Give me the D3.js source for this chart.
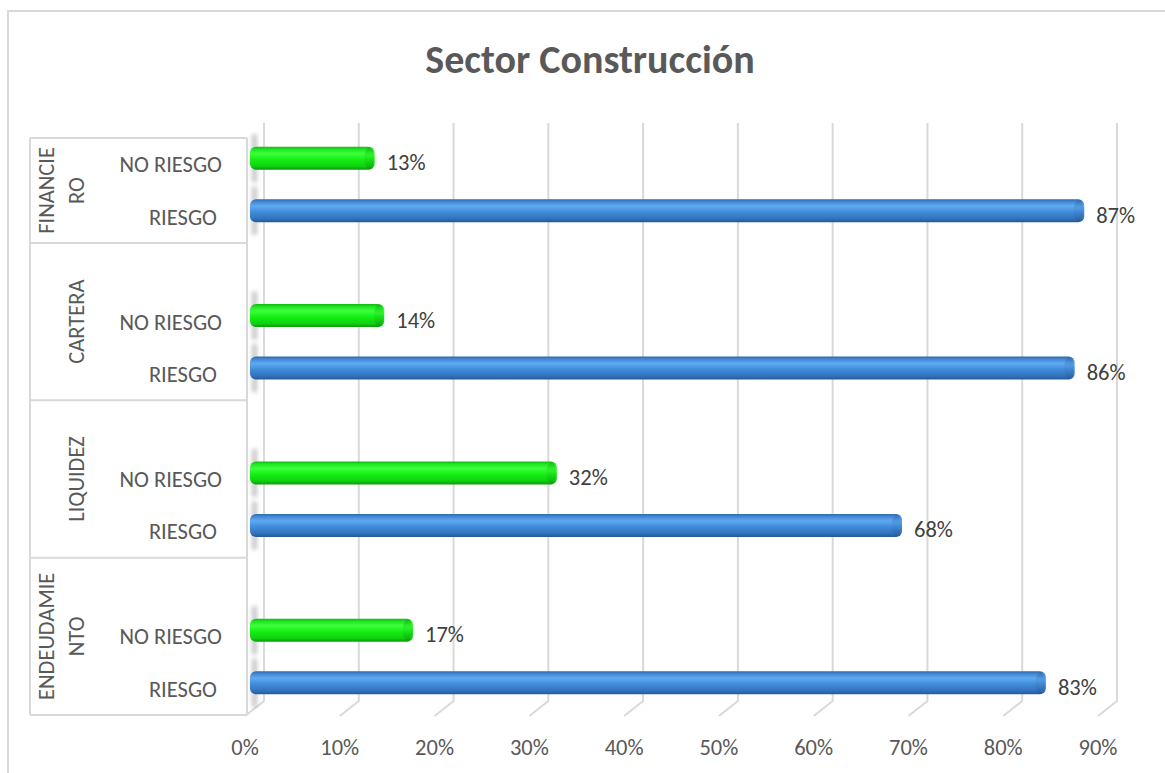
<!DOCTYPE html>
<html>
<head>
<meta charset="utf-8">
<script src="https://cdn.jsdelivr.net/npm/d3@7"></script>
<style>
  body { margin: 0; background: #fff; }
  text { font-family: Carlito, Calibri, Lato, sans-serif; }
</style>
</head>
<body>
<div id="chart"></div>
<script>
// data
const groups = ["FINANCIERO", "CARTERA", "LIQUIDEZ", "ENDEUDAMIENTO"];
const groupLines = [["FINANCIE", "RO"], ["CARTERA"], ["LIQUIDEZ"], ["ENDEUDAMIE", "NTO"]];
const subLabels = ["NO RIESGO", "RIESGO"];
const noRiesgo = [0.13, 0.14, 0.32, 0.17];
const riesgo = [0.87, 0.86, 0.68, 0.83];
const ticks = [0, 0.1, 0.2, 0.3, 0.4, 0.5, 0.6, 0.7, 0.8, 0.9];

const width = 1165, height = 773;
const fs = 22.5;

const svg = d3.select("#chart").append("svg")
  .attr("width", width)
  .attr("height", height);

const defs = svg.append("defs");

// cylinder-like shading for bars
function barGradient(id, stops) {
  const g = defs.append("linearGradient").attr("id", id)
    .attr("x1", 0).attr("y1", 0).attr("x2", 0).attr("y2", 1);
  stops.forEach(s => g.append("stop").attr("offset", s[0]).attr("stop-color", s[1]));
}
barGradient("blueGrad", [[0, "#2e68ab"], [0.12, "#4489d6"], [0.3, "#5eaaf2"], [0.55, "#428ddb"], [0.85, "#3272bc"], [1, "#255993"]]);
barGradient("greenGrad", [[0, "#14b814"], [0.12, "#1ee81e"], [0.3, "#3dff3d"], [0.55, "#14f014"], [0.85, "#0fd00f"], [1, "#0b9a0b"]]);
barGradient("blueCap", [[0, "#2a5f9c"], [0.4, "#4a8fd8"], [1, "#23558f"]]);
barGradient("greenCap", [[0, "#0b9a0b"], [0.4, "#22e822"], [1, "#0a8a0a"]]);

defs.append("filter").attr("id", "blur")
  .attr("x", "-200%").attr("width", "500%")
  .append("feGaussianBlur").attr("stdDeviation", 2);

// chart border
svg.append("rect")
  .attr("x", 8).attr("y", 11)
  .attr("width", 1170).attr("height", 780)
  .attr("fill", "none")
  .attr("stroke", "#d9d9d9")
  .attr("stroke-width", 2);

svg.append("text")
  .attr("x", 590).attr("y", 73)
  .attr("text-anchor", "middle")
  .attr("font-size", 40)
  .attr("font-weight", "bold")
  .attr("fill", "#595959")
  .text("Sector Construcción");

// rows: each group gets a spacer slot except the first
const rows = [];
groups.forEach((g, i) => {
  if (i > 0) rows.push(g + "|gap");
  subLabels.forEach(s => rows.push(g + "|" + s));
});

const y = d3.scaleBand().domain(rows).range([138, 715]);
const x = d3.scaleLinear().domain([0, 0.9]).range([250, 1113]);
const xBack = d3.scaleLinear().domain([0, 0.9]).range([264, 1117]);
const xFront = d3.scaleLinear().domain([0, 0.9]).range([245, 1098]);

const wallTop = 123, wallBottom = 701, floorFront = 716;

// gridlines with depth
const grid = svg.append("g");
ticks.forEach(t => {
  grid.append("path")
    .attr("d", `M${xBack(t)},${wallTop}V${wallBottom}L${xFront(t)},${floorFront}`)
    .attr("fill", "none")
    .attr("stroke", "#d9d9d9")
    .attr("stroke-width", 2);
});

svg.append("g")
  .selectAll("text")
  .data(ticks)
  .join("text")
  .attr("x", d => xFront(d))
  .attr("y", 755)
  .attr("text-anchor", "middle")
  .attr("font-size", fs)
  .attr("fill", "#595959")
  .text(d3.format(".0%"));

// category box on the left
const box = svg.append("g").attr("stroke", "#d9d9d9").attr("stroke-width", 2);
const bounds = [138].concat(groups.map(g => y(g + "|RIESGO") + y.bandwidth()));
bounds.forEach(b => box.append("line").attr("x1", 30).attr("x2", 247).attr("y1", b).attr("y2", b));
box.append("line").attr("x1", 30).attr("x2", 30).attr("y1", 138).attr("y2", 715);
box.append("line").attr("x1", 247).attr("x2", 247).attr("y1", 138).attr("y2", 715);

groups.forEach((g, i) => {
  const yc = (bounds[i] + bounds[i + 1]) / 2;
  const lines = groupLines[i];
  lines.forEach((ln, j) => {
    const xc = 84 - (lines.length - 1 - j) * 30;
    svg.append("text")
      .attr("transform", `translate(${xc},${yc}) rotate(-90)`)
      .attr("text-anchor", "middle")
      .attr("font-size", fs)
      .attr("fill", "#595959")
      .text(ln);
  });
  subLabels.forEach((s, k) => {
    svg.append("text")
      .attr("x", k === 0 ? 222 : 217)
      .attr("y", y(g + "|" + s) + y.bandwidth() / 2 + 8)
      .attr("text-anchor", "end")
      .attr("font-size", fs)
      .attr("fill", "#595959")
      .text(s);
  });
});

// bars
const barH = 23;
const bars = [];
groups.forEach((g, i) => {
  bars.push({ key: g + "|NO RIESGO", v: noRiesgo[i], kind: "green" });
  bars.push({ key: g + "|RIESGO", v: riesgo[i], kind: "blue" });
});
const cy = d => y(d.key) + y.bandwidth() / 2 - 6;

// soft shadow on the side wall
svg.append("g")
  .selectAll("rect")
  .data(bars)
  .join("rect")
  .attr("x", 252).attr("width", 5)
  .attr("y", d => cy(d) - 24).attr("height", 48)
  .attr("fill", "#9a9a9a")
  .attr("opacity", 0.55)
  .attr("filter", "url(#blur)");

const bg = svg.append("g");
bg.selectAll("rect.bar")
  .data(bars)
  .join("rect")
  .attr("class", "bar")
  .attr("x", x(0))
  .attr("y", d => cy(d) - barH / 2)
  .attr("width", d => x(d.v) - x(0))
  .attr("height", barH)
  .attr("rx", 6)
  .attr("fill", d => d.kind === "blue" ? "url(#blueGrad)" : "url(#greenGrad)");

bg.selectAll("ellipse")
  .data(bars)
  .join("ellipse")
  .attr("cx", d => x(d.v) - 5.5)
  .attr("cy", d => cy(d))
  .attr("rx", 5)
  .attr("ry", barH / 2 - 1)
  .attr("fill", d => d.kind === "blue" ? "url(#blueCap)" : "url(#greenCap)")
  .attr("opacity", 0.45);

svg.append("g")
  .selectAll("text")
  .data(bars)
  .join("text")
  .attr("x", d => x(d.v) + 12)
  .attr("y", d => cy(d) + 12)
  .attr("font-size", fs)
  .attr("fill", "#404040")
  .text(d => d3.format(".0%")(d.v));
</script>
</body>
</html>
